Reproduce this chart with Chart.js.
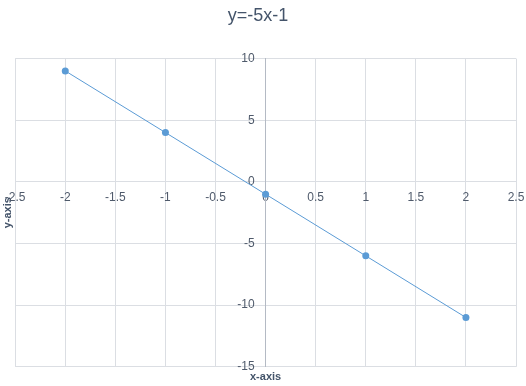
<!DOCTYPE html>
<html>
<head>
<meta charset="utf-8">
<title>y=-5x-1</title>
<script src="https://cdn.jsdelivr.net/npm/chart.js@4/dist/chart.umd.min.js"></script>
<style>
  html, body { margin: 0; padding: 0; background: #ffffff; }
  canvas { display: block; }
</style>
</head>
<body>
<canvas id="chart" width="526" height="386"></canvas>
<script>
// points
const xValues = [-2, -1, 0, 1, 2];
const yValues = [9, 4, -1, -6, -11];

const chartTitle = "y=-5x-1";
const xTitle = "x-axis";
const yTitle = "y-axis";

const xMin = -2.5, xMax = 2.5, xStep = 0.5;
const yMin = -15, yMax = 10, yStep = 5;

const points = xValues.map((x, i) => ({ x: x, y: yValues[i] }));

const titleColor = "#44546A";
const textColor = "#4F5A6B";
const gridColor = "#DBDEE3";
const blue = "#5B9BD5";
const fontFamily = "'Liberation Sans', Arial, sans-serif";

// axes that sit inside the plot should not push the plot area in
const noOverflow = (scale) => {
  scale.paddingLeft = 0;
  scale.paddingRight = 0;
  scale.paddingTop = 0;
  scale.paddingBottom = 0;
};

new Chart(document.getElementById("chart"), {
  type: "line",
  data: {
    datasets: [
      {
        data: points,
        borderColor: blue,
        backgroundColor: blue,
        borderWidth: 1,
        pointRadius: 3.5,
        pointBorderWidth: 0,
        pointBackgroundColor: blue,
        fill: false,
        tension: 0,
      },
    ],
  },
  options: {
    responsive: false,
    animation: false,
    layout: {
      padding: { left: 0, right: 10, top: 0, bottom: 0 },
    },
    plugins: {
      legend: { display: false },
      tooltip: { enabled: false },
      title: {
        display: true,
        text: chartTitle,
        color: titleColor,
        font: { family: fontFamily, size: 18, weight: "normal" },
        padding: { top: 5, bottom: 32 },
      },
    },
    scales: {
      x: {
        type: "linear",
        min: xMin,
        max: xMax,
        position: { y: 0 },
        afterFit: noOverflow,
        grid: { color: gridColor, drawTicks: false },
        border: { color: gridColor },
        ticks: {
          stepSize: xStep,
          color: textColor,
          padding: 9,
          font: { family: fontFamily, size: 12 },
          callback: (value) => String(value),
        },
      },
      y: {
        type: "linear",
        min: yMin,
        max: yMax,
        position: "center",
        afterFit: noOverflow,
        grid: { color: gridColor, drawTicks: false },
        border: { color: "#B4BAC4" },
        ticks: {
          stepSize: yStep,
          color: textColor,
          padding: 11,
          font: { family: fontFamily, size: 12 },
        },
      },
      xTitleAxis: {
        axis: "x",
        type: "linear",
        position: "bottom",
        grid: { display: false, drawTicks: false },
        border: { display: false },
        ticks: { display: false },
        title: {
          display: true,
          text: xTitle,
          color: titleColor,
          font: { family: fontFamily, size: 11, weight: "bold" },
          padding: { top: 4, bottom: 2 },
        },
      },
      yTitleAxis: {
        axis: "y",
        type: "linear",
        position: "left",
        grid: { display: false, drawTicks: false },
        border: { display: false },
        ticks: { display: false },
        title: {
          display: true,
          text: yTitle,
          color: titleColor,
          font: { family: fontFamily, size: 11, weight: "bold" },
          padding: { top: 1, bottom: 1 },
        },
      },
    },
  },
});
</script>
</body>
</html>
